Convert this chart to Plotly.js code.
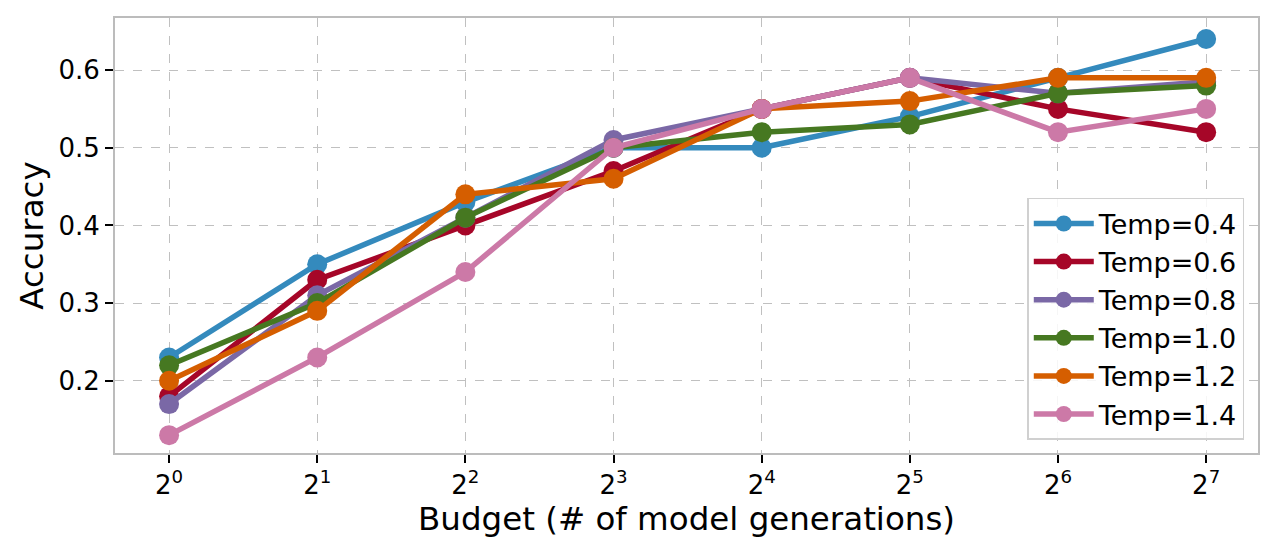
<!DOCTYPE html>
<html>
<head>
<meta charset="utf-8">
<script src="https://cdn.plot.ly/plotly-3.0.1.min.js"></script>
<style>html,body{margin:0;padding:0;background:#fff;}#chart{width:1278px;height:553px;}</style>
</head>
<body>
<div id="chart"></div>
<script>
const budgets = [1, 2, 4, 8, 16, 32, 64, 128];
const tickLabels = ['2<sup>0</sup>','2<sup>1</sup>','2<sup>2</sup>','2<sup>3</sup>','2<sup>4</sup>','2<sup>5</sup>','2<sup>6</sup>','2<sup>7</sup>'];
const seriesNames = ['Temp=0.4','Temp=0.6','Temp=0.8','Temp=1.0','Temp=1.2','Temp=1.4'];
const temp04 = [0.23, 0.35, 0.43, 0.50, 0.50, 0.54, 0.59, 0.64];
const temp06 = [0.18, 0.33, 0.40, 0.47, 0.55, 0.59, 0.55, 0.52];
const temp08 = [0.17, 0.31, 0.41, 0.51, 0.55, 0.59, 0.57, 0.585];
const temp10 = [0.22, 0.30, 0.41, 0.50, 0.52, 0.53, 0.57, 0.58];
const temp12 = [0.20, 0.29, 0.44, 0.46, 0.55, 0.56, 0.59, 0.59];
const temp14 = [0.13, 0.23, 0.34, 0.50, 0.55, 0.59, 0.52, 0.55];
const colors = ['#348ABD','#A60628','#7A68A6','#467821','#D55E00','#CC79A7'];
const allSeries = [temp04, temp06, temp08, temp10, temp12, temp14];

const traces = allSeries.map((ys, i) => ({
  x: budgets, y: ys, name: seriesNames[i], type: 'scatter', mode: 'lines+markers',
  line: {color: colors[i], width: 5.5},
  marker: {color: colors[i], size: 20}
}));

const font = {family: 'DejaVu Sans', color: '#000'};
const layout = {
  width: 1278, height: 553,
  margin: {l: 115, r: 20, t: 18, b: 100},
  paper_bgcolor: '#fff', plot_bgcolor: '#fff',
  font: font,
  showlegend: true,
  legend: {
    x: 0.988, y: 0.03, xanchor: 'right', yanchor: 'bottom',
    bgcolor: 'rgba(255,255,255,0.85)', bordercolor: '#d0d0d0', borderwidth: 1.5,
    font: {family: 'DejaVu Sans', size: 27, color: '#000'},
    tracegroupgap: 0, itemwidth: 60
  },
  xaxis: {
    type: 'log',
    range: [Math.log10(Math.pow(2, -0.365)), Math.log10(Math.pow(2, 7.35))],
    tickvals: budgets, ticktext: tickLabels,
    ticks: 'outside', ticklen: 8, tickwidth: 2, tickcolor: '#000',
    tickfont: {family: 'DejaVu Sans', size: 26, color: '#000'},
    showgrid: true, gridcolor: '#c0c0c0', griddash: 'dash', gridwidth: 1,
    showline: true, mirror: true, linecolor: '#bcbcbc', linewidth: 2,
    zeroline: false,
    title: {text: 'Budget (# of model generations)', font: {family: 'DejaVu Sans', size: 32.5, color: '#000'}, standoff: 6}
  },
  yaxis: {
    range: [0.107, 0.667],
    tickvals: [0.2, 0.3, 0.4, 0.5, 0.6], ticktext: ['0.2','0.3','0.4','0.5','0.6'],
    ticks: 'outside', ticklen: 8, tickwidth: 2, tickcolor: '#000',
    tickfont: {family: 'DejaVu Sans', size: 26, color: '#000'},
    showgrid: true, gridcolor: '#c0c0c0', griddash: 'dash', gridwidth: 1,
    showline: true, mirror: true, linecolor: '#bcbcbc', linewidth: 2,
    zeroline: false,
    title: {text: 'Accuracy', font: {family: 'DejaVu Sans', size: 32.5, color: '#000'}, standoff: 5}
  }
};
Plotly.newPlot('chart', traces, layout, {displayModeBar: false, staticPlot: true});
</script>
</body>
</html>
